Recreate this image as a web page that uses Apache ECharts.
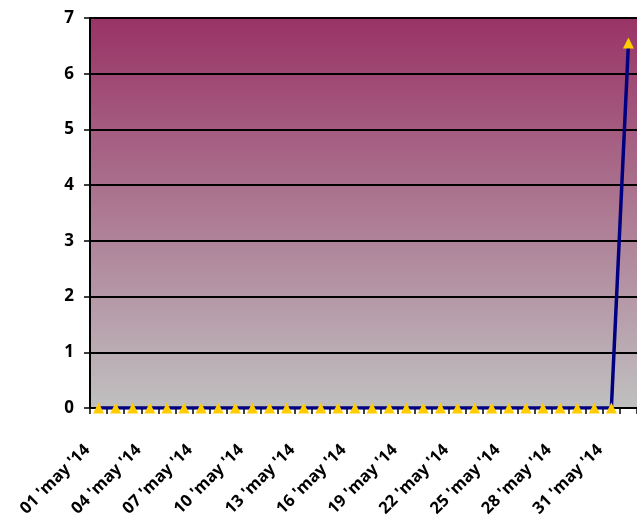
<!DOCTYPE html>
<html>
<head>
<meta charset="utf-8">
<script src="https://cdn.jsdelivr.net/npm/echarts@6/dist/echarts.min.js"></script>
<style>
	html, body { margin: 0; padding: 0; background: #fff; }
	#chart { width: 637px; height: 522px; }
</style>
</head>
<body>
<div id="chart"></div>
<script>
	// daily categories, 01 may to 01 jun
	const days = ["01 'may '14", "02 'may '14", "03 'may '14", "04 'may '14", "05 'may '14", "06 'may '14",
		"07 'may '14", "08 'may '14", "09 'may '14", "10 'may '14", "11 'may '14", "12 'may '14",
		"13 'may '14", "14 'may '14", "15 'may '14", "16 'may '14", "17 'may '14", "18 'may '14",
		"19 'may '14", "20 'may '14", "21 'may '14", "22 'may '14", "23 'may '14", "24 'may '14",
		"25 'may '14", "26 'may '14", "27 'may '14", "28 'may '14", "29 'may '14", "30 'may '14",
		"31 'may '14", "01 'jun '14"];
	const values = [0, 0, 0, 0, 0, 0, 0, 0, 0, 0, 0, 0, 0, 0, 0, 0, 0, 0, 0, 0, 0, 0, 0, 0, 0, 0, 0, 0, 0, 0, 0, 6.55];
	const yTicks = [0, 1, 2, 3, 4, 5, 6, 7];

	let myChart = echarts.init(document.getElementById('chart'));
	myChart.setOption({
		animation: false,
		grid: {
			left: 90,
			right: 0,
			top: 18,
			bottom: 114,
			containLabel: false,
			outerBoundsMode: 'none',
			show: true,
			borderWidth: 0,
			backgroundColor: new echarts.graphic.LinearGradient(0, 0, 0, 1, [
				{ offset: 0, color: '#993366' },
				{ offset: 1, color: '#c0c0c0' }
			])
		},
		xAxis: {
			type: 'category',
			data: days,
			boundaryGap: true,
			axisLine: { lineStyle: { color: '#000', width: 2 } },
			axisTick: { show: true, interval: 0, length: 6, lineStyle: { color: '#000', width: 1.5 } },
			axisLabel: {
				interval: 2,
				rotate: 45,
				color: '#000',
				fontWeight: 'bold',
				fontSize: 16.5,
				fontFamily: 'Open Sans',
				margin: 28,
				padding: [0, 16, 0, 0]
			}
		},
		yAxis: {
			type: 'value',
			min: yTicks[0],
			max: yTicks[yTicks.length - 1],
			interval: 1,
			axisLine: { show: true, lineStyle: { color: '#000', width: 2 } },
			axisTick: { show: true, length: 6, lineStyle: { color: '#000', width: 1.5 } },
			splitLine: { show: true, lineStyle: { color: '#000', width: 2 } },
			axisLabel: {
				color: '#000',
				fontWeight: 'bold',
				fontSize: 17,
				fontFamily: 'Open Sans',
				margin: 16
			}
		},
		series: [{
			type: 'line',
			data: values,
			symbol: 'triangle',
			symbolSize: 11,
			showAllSymbol: true,
			lineStyle: { color: '#000080', width: 3.5 },
			itemStyle: { color: '#ffcc00', borderWidth: 0 }
		}]
	});
</script>
</body>
</html>
